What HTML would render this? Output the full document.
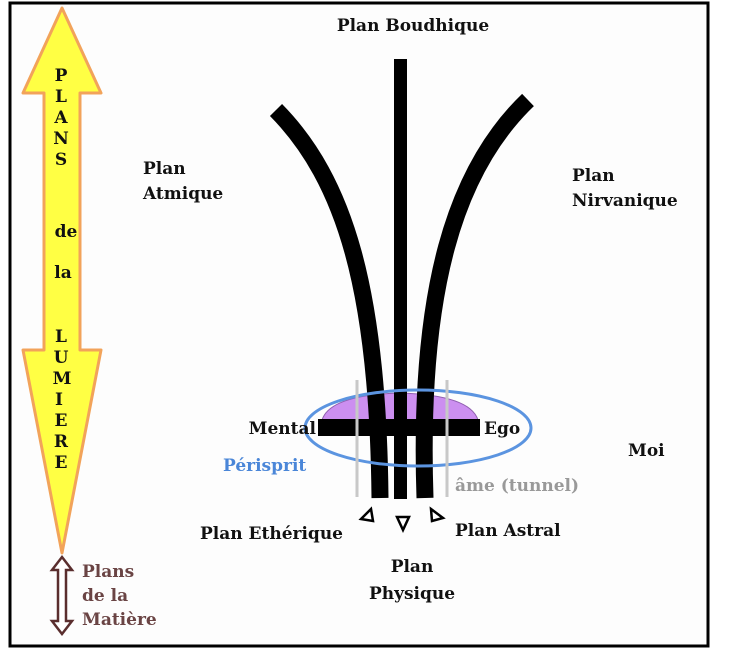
<!DOCTYPE html>
<html><head><meta charset="utf-8"><style>
html,body{margin:0;padding:0;background:#fff;}
body{width:744px;height:663px;overflow:hidden;position:relative;}
svg{position:absolute;left:0;top:0;}
text{font-family:"DejaVu Serif","Liberation Serif",serif;font-weight:bold;font-size:17px;}
</style></head><body>
<svg width="744" height="663" viewBox="0 0 744 663">
<rect x="0" y="0" width="744" height="663" fill="#fff"/>
<rect x="10" y="3" width="698" height="643" fill="#fdfdfd" stroke="#000" stroke-width="3"/>
<polygon points="62,8 101,93 80,93 80,350 101,350 62,553 23,350 44,350 44,93 23,93" fill="#ffff44" stroke="#f2a35a" stroke-width="3" stroke-linejoin="round"/>
<g fill="#111" text-anchor="middle" font-size="19">
<text x="61" y="81">P</text><text x="61" y="102">L</text><text x="61" y="123">A</text><text x="61" y="144">N</text><text x="61" y="165">S</text>
<text x="66" y="237">de</text><text x="63" y="278">la</text>
<text x="61" y="342">L</text><text x="61" y="363">U</text><text x="62" y="384">M</text><text x="59" y="405">I</text><text x="61" y="426">E</text><text x="61" y="447">R</text><text x="61" y="468">E</text>
</g>
<polygon points="62,557 72,570 66,570 66,621 72,621 62,634 52,621 58,621 58,570 52,570" fill="#fff" stroke="#5a2e2e" stroke-width="2.5"/>
<g fill="#6a4444" font-size="17"><text x="82" y="577">Plans</text><text x="82" y="601">de la</text><text x="82" y="625">Matière</text></g>
<path d="M322,420 Q330,395 400,393 Q470,395 478,420 Z" fill="#cc8ff0" stroke="#9060b0" stroke-width="1"/>
<rect x="394" y="59" width="13" height="440" fill="#000"/>
<path d="M276,110 C345,180 378,290 380,498" fill="none" stroke="#000" stroke-width="17"/>
<path d="M528,100 C455,170 418,290 425,498" fill="none" stroke="#000" stroke-width="17"/>
<rect x="318" y="419" width="162" height="17" fill="#000"/>
<ellipse cx="418" cy="428" rx="113" ry="38" fill="none" stroke="#5b94e0" stroke-width="3"/>
<line x1="357" y1="380" x2="357" y2="497" stroke="#c8c8c8" stroke-width="3"/>
<line x1="447" y1="380" x2="447" y2="497" stroke="#c8c8c8" stroke-width="3"/>
<polygon points="371,509 373,521 361,519" fill="#fff" stroke="#000" stroke-width="2.5"/>
<polygon points="397,517 409,517 403,530" fill="#fff" stroke="#000" stroke-width="2.5"/>
<polygon points="431,509 443,518 432,521" fill="#fff" stroke="#000" stroke-width="2.5"/>
<g fill="#111">
<text x="413" y="31" text-anchor="middle">Plan Boudhique</text>
<text x="143" y="174">Plan</text><text x="143" y="199">Atmique</text>
<text x="572" y="181">Plan</text><text x="572" y="206">Nirvanique</text>
<text x="316" y="434" text-anchor="end">Mental</text>
<text x="484" y="434">Ego</text>
<text x="628" y="456">Moi</text>
<text x="200" y="539">Plan Ethérique</text>
<text x="455" y="536">Plan Astral</text>
<text x="412" y="572" text-anchor="middle">Plan</text>
<text x="412" y="599" text-anchor="middle">Physique</text>
</g>
<text x="223" y="471" fill="#4a86d8">Périsprit</text>
<text x="455" y="491" fill="#999">âme (tunnel)</text>
</svg>
</body></html>
